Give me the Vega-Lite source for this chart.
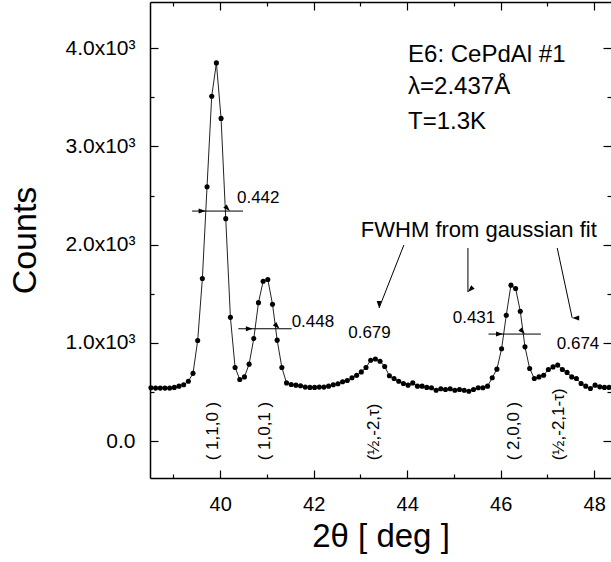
{
  "$schema": "https://vega.github.io/schema/vega-lite/v6.json",
  "width": 461,
  "height": 476,
  "autosize": "none",
  "padding": {"left": 150, "top": 2, "right": 0, "bottom": 84},
  "background": "white",
  "config": {
    "view": {"stroke": null},
    "font": "Liberation Sans",
    "axis": {
      "domainColor": "black", "tickColor": "black", "labelColor": "black", "titleColor": "black",
      "labelFont": "Liberation Sans", "titleFont": "Liberation Sans", "titleFontWeight": "normal",
      "grid": false, "domainWidth": 1.5, "tickWidth": 1.2, "labelOverlap": false, "labelFlush": false
    }
  },
  "datasets": {
    "scan": [
      {"x":38.52,"y":543},{"x":38.62,"y":540},{"x":38.72,"y":540},{"x":38.82,"y":540},{"x":38.92,"y":540},
      {"x":39.02,"y":547},{"x":39.12,"y":560},{"x":39.22,"y":574},{"x":39.32,"y":610},{"x":39.42,"y":690},
      {"x":39.52,"y":1025},{"x":39.62,"y":1655},{"x":39.72,"y":2590},{"x":39.82,"y":3510},{"x":39.92,"y":3850},
      {"x":40.02,"y":3285},{"x":40.12,"y":2265},{"x":40.22,"y":1260},{"x":40.32,"y":750},{"x":40.42,"y":628},
      {"x":40.52,"y":654},{"x":40.62,"y":784},{"x":40.72,"y":1045},{"x":40.82,"y":1410},{"x":40.92,"y":1628},
      {"x":41.02,"y":1645},{"x":41.12,"y":1394},{"x":41.22,"y":1028},{"x":41.32,"y":750},{"x":41.42,"y":593},
      {"x":41.52,"y":577},{"x":41.62,"y":570},{"x":41.72,"y":564},{"x":41.82,"y":550},{"x":41.92,"y":547},
      {"x":42.02,"y":547},{"x":42.12,"y":550},{"x":42.22,"y":550},{"x":42.32,"y":560},{"x":42.42,"y":574},
      {"x":42.52,"y":584},{"x":42.62,"y":605},{"x":42.72,"y":618},{"x":42.82,"y":645},{"x":42.92,"y":670},
      {"x":43.02,"y":705},{"x":43.12,"y":750},{"x":43.22,"y":824},{"x":43.32,"y":837},{"x":43.42,"y":814},
      {"x":43.52,"y":760},{"x":43.62,"y":665},{"x":43.72,"y":638},{"x":43.82,"y":610},{"x":43.92,"y":587},
      {"x":44.02,"y":570},{"x":44.12,"y":593},{"x":44.22,"y":560},{"x":44.32,"y":560},{"x":44.42,"y":547},
      {"x":44.52,"y":543},{"x":44.62,"y":518},{"x":44.72,"y":533},{"x":44.82,"y":526},{"x":44.92,"y":533},
      {"x":45.02,"y":518},{"x":45.12,"y":526},{"x":45.22,"y":518},{"x":45.32,"y":508},{"x":45.42,"y":526},
      {"x":45.52,"y":543},{"x":45.62,"y":543},{"x":45.72,"y":560},{"x":45.82,"y":645},{"x":45.92,"y":733},
      {"x":46.02,"y":940},{"x":46.12,"y":1282},{"x":46.22,"y":1588},{"x":46.32,"y":1554},{"x":46.42,"y":1323},
      {"x":46.52,"y":960},{"x":46.62,"y":740},{"x":46.72,"y":638},{"x":46.82,"y":654},{"x":46.92,"y":671},
      {"x":47.02,"y":730},{"x":47.12,"y":756},{"x":47.22,"y":774},{"x":47.32,"y":730},{"x":47.42,"y":700},
      {"x":47.52,"y":654},{"x":47.62,"y":638},{"x":47.72,"y":587},{"x":47.82,"y":560},{"x":47.92,"y":536},
      {"x":48.02,"y":570},{"x":48.12,"y":553},{"x":48.22,"y":547},{"x":48.32,"y":547}
    ],
    "fwhm": [
      {"x":39.40,"x2":40.49,"y":2342},
      {"x":40.39,"x2":41.53,"y":1144},
      {"x":45.74,"x2":46.86,"y":1090}
    ],
    "arrows": [
      {"x":43.93,"y":1997,"x2":43.40,"y2":1355},
      {"x":45.30,"y":1966,"x2":45.30,"y2":1518},
      {"x":47.21,"y":1966,"x2":47.53,"y2":1254}
    ],
    "heads": [
      {"x":39.69,"y":2342,"dir":"right"},{"x":40.21,"y":2342,"dir":"left"},
      {"x":40.70,"y":1144,"dir":"right"},{"x":41.27,"y":1144,"dir":"left"},
      {"x":46.05,"y":1090,"dir":"right"},{"x":46.52,"y":1090,"dir":"left"},
      {"x":43.40,"y":1355,"dir":"downleft"},{"x":45.30,"y":1518,"dir":"down"},{"x":47.53,"y":1254,"dir":"downright"}
    ],
    "widths": [
      {"x":40.36,"y":2475,"t":"0.442"},{"x":41.53,"y":1216,"t":"0.448"},{"x":42.74,"y":1104,"t":"0.679"},
      {"x":44.975,"y":1250,"t":"0.431"},{"x":47.20,"y":985,"t":"0.674"}
    ],
    "info": [
      {"x":44.02,"y":3930,"t":"E6: CePdAl #1"},{"x":44.02,"y":3605,"t":"λ=2.437Å"},{"x":44.02,"y":3248,"t":"T=1.3K"}
    ],
    "note": [{"x":43.01,"y":2149,"t":"FWHM from gaussian fit"}],
    "hkl": [
      {"x":39.855,"t":"( 1,1,0 )"},{"x":40.96,"t":"( 1,0,1 )"},{"x":43.29,"t":"(½,-2,τ)"},
      {"x":46.29,"t":"( 2,0,0 )"},{"x":47.255,"t":"(½,-2,1-τ)"}
    ]
  },
  "layer": [
    {
      "data": {"name": "scan"},
      "mark": {"type": "line", "color": "#222222", "strokeWidth": 1},
      "encoding": {
        "x": {"field": "x", "type": "quantitative", "scale": {"domain": [38.5, 48.36], "nice": false, "zero": false},
          "axis": {"orient": "bottom", "values": [40,42,44,46,48], "tickSize": -8,
            "labelFontSize": 20, "labelPadding": 24, "title": "2θ [ deg ]", "titleFontSize": 33, "titlePadding": 6}},
        "y": {"field": "y", "type": "quantitative", "scale": {"domain": [-375, 4470], "nice": false, "zero": false},
          "axis": {"orient": "left", "values": [0,1000,2000,3000,4000], "tickSize": -8,
            "labelExpr": "datum.value === 0 ? '0.0' : format(datum.value / 1000, '.1f') + 'x10³'",
            "labelFontSize": 21, "labelPadding": 23, "title": "Counts", "titleFontSize": 34, "titlePadding": 22}}
      }
    },
    {
      "data": {"name": "scan"},
      "mark": {"type": "point", "filled": true, "color": "black", "size": 26, "opacity": 1},
      "encoding": {
        "x": {"field": "x", "type": "quantitative", "scale": {"domain": [38.5, 48.36], "nice": false, "zero": false},
          "axis": {"orient": "top", "values": [40,42,44,46,48], "labels": false, "title": null, "tickSize": -8}},
        "y": {"field": "y", "type": "quantitative", "scale": {"domain": [-375, 4470], "nice": false, "zero": false},
          "axis": {"orient": "right", "values": [0,1000,2000,3000,4000], "labels": false, "title": null, "domain": false, "tickSize": -8}}
      }
    },
    {
      "data": {"name": "fwhm"},
      "mark": {"type": "rule", "color": "black", "strokeWidth": 1},
      "encoding": {
        "x": {"field": "x", "type": "quantitative",
          "axis": {"orient": "bottom", "values": [39,41,43,45,47], "labels": false, "title": null, "domain": false, "tickSize": -4}},
        "x2": {"field": "x2"},
        "y": {"field": "y", "type": "quantitative",
          "axis": {"orient": "left", "values": [500,1500,2500,3500], "labels": false, "title": null, "domain": false, "tickSize": -4}}
      }
    },
    {
      "data": {"name": "arrows"},
      "mark": {"type": "rule", "color": "black", "strokeWidth": 1},
      "encoding": {
        "x": {"field": "x", "type": "quantitative",
          "axis": {"orient": "top", "values": [39,41,43,45,47], "labels": false, "title": null, "domain": false, "tickSize": -4}},
        "x2": {"field": "x2"},
        "y": {"field": "y", "type": "quantitative",
          "axis": {"orient": "right", "values": [500,1500,2500,3500], "labels": false, "title": null, "domain": false, "tickSize": -4}},
        "y2": {"field": "y2"}
      }
    },
    {
      "data": {"name": "heads"},
      "mark": {"type": "point", "filled": true, "color": "black", "opacity": 1, "size": 196, "shape": "M0,0L-0.35,1L0.35,1Z"},
      "encoding": {
        "x": {"field": "x", "type": "quantitative", "axis": null},
        "y": {"field": "y", "type": "quantitative", "axis": null},
        "angle": {"field": "dir", "type": "nominal", "legend": null,
          "scale": {"domain": ["right","left","downleft","down","downright"], "range": [90,270,201.6,180,167.9]}}
      }
    },
    {
      "data": {"name": "widths"},
      "mark": {"type": "text", "align": "left", "baseline": "middle", "fontSize": 17, "color": "black"},
      "encoding": {
        "x": {"field": "x", "type": "quantitative", "axis": null},
        "y": {"field": "y", "type": "quantitative", "axis": null},
        "text": {"field": "t"}
      }
    },
    {
      "data": {"name": "info"},
      "mark": {"type": "text", "align": "left", "baseline": "middle", "fontSize": 24, "color": "black"},
      "encoding": {
        "x": {"field": "x", "type": "quantitative", "axis": null},
        "y": {"field": "y", "type": "quantitative", "axis": null},
        "text": {"field": "t"}
      }
    },
    {
      "data": {"name": "note"},
      "mark": {"type": "text", "align": "left", "baseline": "middle", "fontSize": 22, "color": "black"},
      "encoding": {
        "x": {"field": "x", "type": "quantitative", "axis": null},
        "y": {"field": "y", "type": "quantitative", "axis": null},
        "text": {"field": "t"}
      }
    },
    {
      "data": {"name": "hkl"},
      "mark": {"type": "text", "align": "left", "baseline": "middle", "angle": 270, "fontSize": 17, "color": "black"},
      "encoding": {
        "x": {"field": "x", "type": "quantitative", "axis": null},
        "y": {"datum": -195, "type": "quantitative", "axis": null},
        "text": {"field": "t"}
      }
    }
  ],
  "resolve": {"axis": {"x": "independent", "y": "independent"}}
}
